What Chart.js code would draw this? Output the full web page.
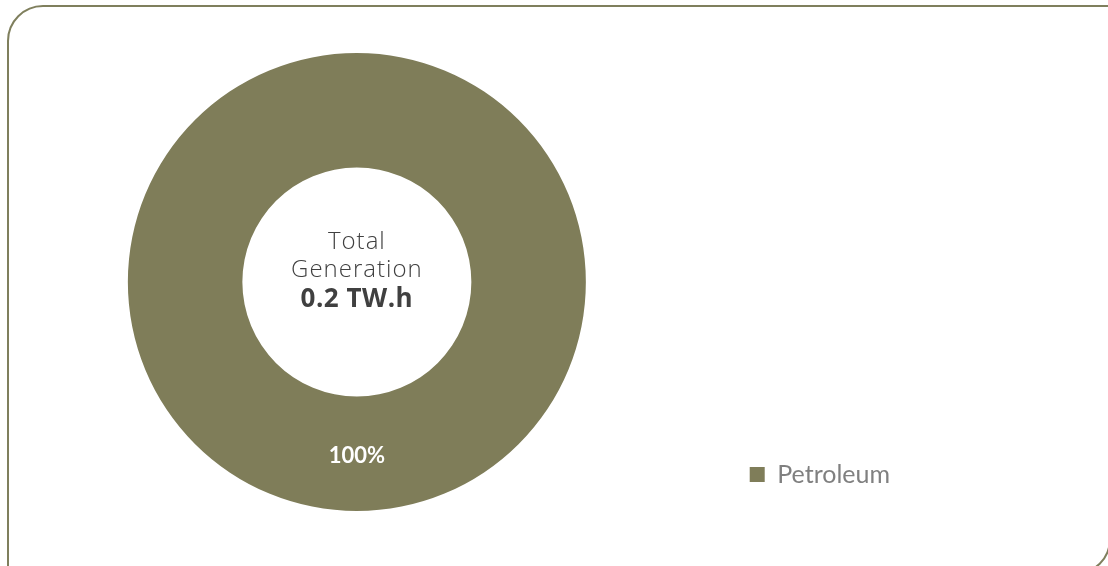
<!DOCTYPE html>
<html>
<head>
<meta charset="utf-8">
<title>Generation mix</title>
<script src="https://cdn.jsdelivr.net/npm/chart.js@4.4.1/dist/chart.umd.min.js"></script>
<style>
  html, body { margin: 0; padding: 0; background: #fff; }
  .frame {
    position: absolute;
    left: 7px; top: 5px;
    width: 1104px; height: 570px;
    box-sizing: border-box;
    border: 2px solid #7f7f5d;
    border-top-left-radius: 36px;
    border-bottom-right-radius: 36px;
  }
  .wrap { position: absolute; left: 0; top: 0; width: 1108px; height: 566px; }
</style>
</head>
<body>
<div class="frame"></div>
<div class="wrap"><canvas id="mixChart"></canvas></div>
<script>
// nguồn phát điện
const sources = ['Petroleum'];
const shares = [100];
const colors = ['#7f7d59'];
const totalLabel = '0.2 TW.h';

// chữ ở giữa vòng
const centerText = {
  id: 'centerText',
  afterDraw(chart) {
    const c = chart.ctx;
    const arc = chart.getDatasetMeta(0).data[0];
    const x = arc.x, y = arc.y;
    c.save();
    c.textAlign = 'center';
    c.textBaseline = 'alphabetic';
    c.fillStyle = '#404040';
    c.font = '300 24px "Open Sans", sans-serif';
    c.letterSpacing = '1px';
    c.fillText('Total', x, y - 33);
    c.fillText('Generation', x, y - 5);
    c.font = 'bold 26px "Open Sans", sans-serif';
    c.letterSpacing = '0.5px';
    c.fillText(totalLabel, x, y + 25);
    c.restore();
  }
};

// nhãn phần trăm trên vòng
const sliceLabels = {
  id: 'sliceLabels',
  afterDatasetsDraw(chart) {
    const c = chart.ctx;
    const meta = chart.getDatasetMeta(0);
    c.save();
    c.textAlign = 'center';
    c.textBaseline = 'alphabetic';
    c.fillStyle = '#ffffff';
    c.font = 'bold 22px Lato, sans-serif';
    meta.data.forEach((arc, i) => {
      const r = (arc.innerRadius + arc.outerRadius) / 2;
      // một lát 100% thì đặt nhãn ở đáy vòng
      const ang = shares[i] >= 100 ? Math.PI / 2 : (arc.startAngle + arc.endAngle) / 2;
      c.fillText(shares[i] + '%', arc.x + Math.cos(ang) * r, arc.y + Math.sin(ang) * r + 9);
    });
    c.restore();
  }
};

const ctx = document.getElementById('mixChart').getContext('2d');
const mixChart = new Chart(ctx, {
  type: 'doughnut',
  data: {
    labels: sources,
    datasets: [{
      data: shares,
      backgroundColor: colors,
      borderWidth: 0,
      radius: 229
    }]
  },
  options: {
    responsive: true,
    maintainAspectRatio: false,
    animation: false,
    cutout: '50%',
    layout: {
      padding: { left: 0, right: 208, top: 41, bottom: 43 }
    },
    plugins: {
      tooltip: { enabled: false },
      legend: {
        position: 'right',
        align: 'end',
        labels: {
          boxWidth: 15,
          boxHeight: 15,
          padding: 36,
          color: '#808080',
          font: { size: 25, family: 'Lato, sans-serif' }
        }
      }
    }
  },
  plugins: [centerText, sliceLabels]
});
</script>
</body>
</html>
